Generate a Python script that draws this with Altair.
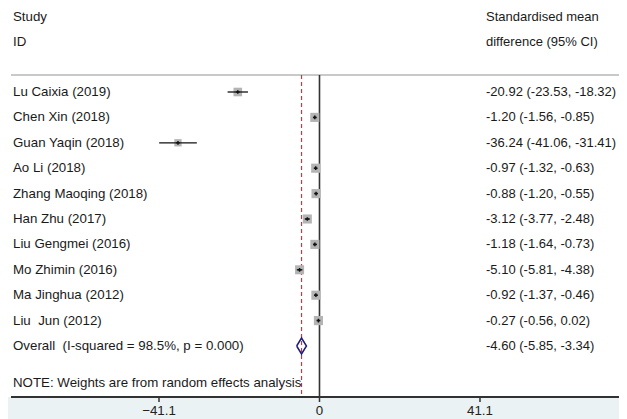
import altair as alt
import pandas as pd

studies = ["Lu Caixia (2019)", "Chen Xin (2018)", "Guan Yaqin (2018)", "Ao Li (2018)",
           "Zhang Maoqing (2018)", "Han Zhu (2017)", "Liu Gengmei (2016)", "Mo Zhimin (2016)",
           "Ma Jinghua (2012)", "Liu\u00a0 Jun (2012)"]
smd = [-20.92, -1.20, -36.24, -0.97, -0.88, -3.12, -1.18, -5.10, -0.92, -0.27]
lo = [-23.53, -1.56, -41.06, -1.32, -1.20, -3.77, -1.64, -5.81, -1.37, -0.56]
hi = [-18.32, -0.85, -31.41, -0.63, -0.55, -2.48, -0.73, -4.38, -0.46, 0.02]
weights = [9.3, 10.5, 6.7, 10.5, 10.5, 10.4, 10.5, 10.3, 10.5, 10.6]
ci_text = ["-20.92 (-23.53, -18.32)", "-1.20 (-1.56, -0.85)", "-36.24 (-41.06, -31.41)",
           "-0.97 (-1.32, -0.63)", "-0.88 (-1.20, -0.55)", "-3.12 (-3.77, -2.48)",
           "-1.18 (-1.64, -0.73)", "-5.10 (-5.81, -4.38)", "-0.92 (-1.37, -0.46)",
           "-0.27 (-0.56, 0.02)"]

overall_label = "Overall\u00a0 (I-squared = 98.5%, p = 0.000)"
overall = -4.60
overall_lo = -5.85
overall_hi = -3.34
overall_text = "-4.60 (-5.85, -3.34)"
note = "NOTE: Weights are from random effects analysis"
header_left = ["Study", "ID"]
header_right = ["Standardised mean", "difference (95% CI)"]
tick_values = [-41.1, 0, 41.1]

FONT = "Liberation Sans"
FS = 13.3
FSR = 13.0
W, H = 611, 389
RX = 478

xscale = alt.Scale(domain=[-79.77, 76.70], nice=False, zero=False)
yscale = alt.Scale(domain=[-3.307, 12.008], nice=False, zero=False, reverse=True)

n = len(studies)
df = pd.DataFrame({"study": studies, "smd": smd, "lo": lo, "hi": hi,
                   "w": weights, "ci": ci_text, "row": list(range(n))})
ov = pd.DataFrame({"study": [overall_label], "smd": [overall], "lo": [overall_lo],
                   "hi": [overall_hi], "ci": [overall_text], "row": [n]})
dia = pd.DataFrame({
    "smd": [overall_lo, overall, overall_hi, overall, overall_lo],
    "row": [n, n - 0.315, n, n + 0.315, n],
    "o": [0, 1, 2, 3, 4],
})
vlines = pd.DataFrame({"smd": [0.0, overall], "kind": ["zero", "overall"]})
heads = pd.DataFrame({"left": header_left, "right": header_right, "row": [-2.953, -1.969]})
notes = pd.DataFrame({"t": [note], "row": [11.457]})
ticks = pd.DataFrame({"smd": tick_values})

Xn = alt.X("smd:Q", scale=xscale, axis=None)
Y = alt.Y("row:Q", scale=yscale, axis=None)

band = alt.Chart(df).mark_rect(color="#EAF2F3").encode(
    x=alt.value(0), x2=alt.value(W), y=alt.value(H), y2=alt.value(H + 25))

header_line = alt.Chart(df).mark_rule(color="#C8C8C8", strokeWidth=1.5).encode(
    x=alt.value(3), x2=alt.value(W), y=alt.value(67))

axis_line = alt.Chart(df).mark_rule(color="#333333", strokeWidth=1.5).encode(
    x=alt.value(3), x2=alt.value(W), y=alt.value(H))

tick_marks = alt.Chart(ticks).mark_rule(color="#333333", strokeWidth=1.5).encode(
    x=Xn, y=alt.value(H), y2=alt.value(H + 5))

tick_labels = alt.Chart(ticks).transform_calculate(
    lab="datum.smd == 0 ? '0' : format(datum.smd, '.1f')"
).mark_text(font=FONT, fontSize=FS, color="#222222", baseline="top", align="center").encode(
    x=Xn, y=alt.value(H + 7), text="lab:N")

zero_line = alt.Chart(vlines).transform_filter("datum.kind == 'zero'").mark_rule(
    color="#333333", strokeWidth=1.6).encode(x=Xn, y=alt.value(67), y2=alt.value(H))

ov_line = alt.Chart(vlines).transform_filter("datum.kind == 'overall'").mark_rule(
    color="#B0404A", strokeWidth=1.2, strokeDash=[4, 3]).encode(
    x=Xn, y=alt.value(67), y2=alt.value(H))

squares = alt.Chart(df).mark_square(color="#B4B4B4", opacity=1).encode(
    x=Xn, y=Y,
    size=alt.Size("w:Q", scale=alt.Scale(domain=[0, 10.6], range=[0, 84]), legend=None))

ci = alt.Chart(df).mark_rule(color="#111111", strokeWidth=1.3).encode(
    x=alt.X("lo:Q", scale=xscale, axis=None), x2="hi:Q", y=Y)

center = alt.Chart(df).mark_point(shape="cross", filled=True, color="#111111", size=14, opacity=1).encode(
    x=Xn, y=Y)

diamond = alt.Chart(dia).mark_line(color="#1E1E78", strokeWidth=1.5).encode(
    x=Xn, y=Y, order="o:Q")

txt = dict(font=FONT, fontSize=FS, color="#1a1a1a", baseline="middle", align="left")
txtr = dict(txt, fontSize=FSR)

names = alt.Chart(df).mark_text(**txt).encode(x=alt.value(5), y=Y, text="study:N")
cis = alt.Chart(df).mark_text(**txtr).encode(x=alt.value(RX), y=Y, text="ci:N")
ov_name = alt.Chart(ov).mark_text(**txt).encode(x=alt.value(5), y=Y, text="study:N")
ov_ci = alt.Chart(ov).mark_text(**txtr).encode(x=alt.value(RX), y=Y, text="ci:N")
head_l = alt.Chart(heads).mark_text(**txt).encode(x=alt.value(5), y=Y, text="left:N")
head_r = alt.Chart(heads).mark_text(**txtr).encode(x=alt.value(RX), y=Y, text="right:N")
note_t = alt.Chart(notes).mark_text(**txt).encode(x=alt.value(5), y=Y, text="t:N")

chart = alt.layer(
    band, header_line, zero_line, ov_line, axis_line, tick_marks, tick_labels,
    squares, ci, center, diamond,
    names, cis, ov_name, ov_ci, head_l, head_r, note_t
).properties(
    width=W, height=H,
    autosize=alt.AutoSizeParams(type="none"),
    padding={"left": 0, "top": 0, "right": 0, "bottom": 22},
    background="white",
).configure_view(strokeWidth=0)

chart.save("out.html", embed_options={"renderer": "svg", "actions": False})
